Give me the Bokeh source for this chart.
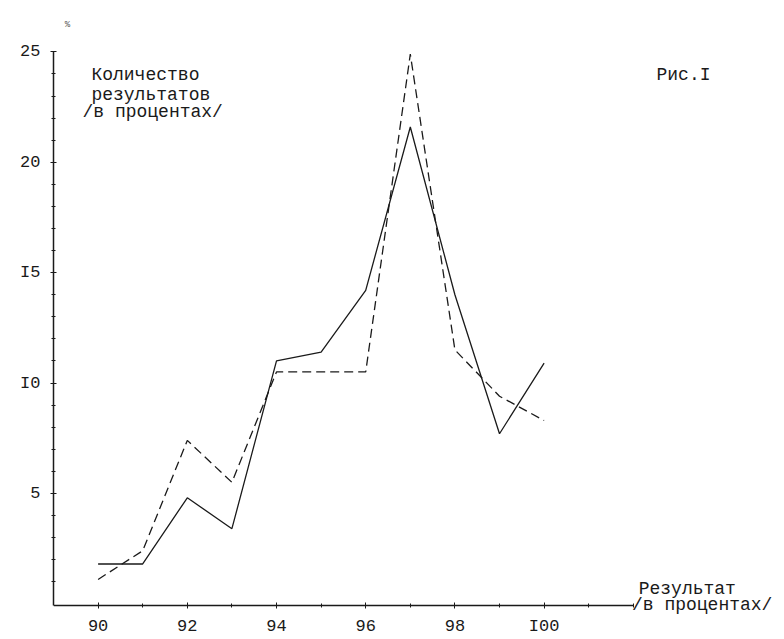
from bokeh.plotting import figure
from bokeh.models import Label, FixedTicker, Range1d
from bokeh.embed import file_html
from bokeh.resources import INLINE

# Data
results = [90, 91, 92, 93, 94, 95, 96, 97, 98, 99, 100]
series_solid = [1.8, 1.8, 4.8, 3.4, 11.0, 11.4, 14.2, 21.6, 14.0, 7.7, 10.9]
series_dashed = [1.1, 2.4, 7.4, 5.5, 10.5, 10.5, 10.5, 24.9, 11.5, 9.4, 8.3]

x_ticks = [90, 92, 94, 96, 98, 100]
x_tick_labels = ["90", "92", "94", "96", "98", "I00"]
y_ticks = [5, 10, 15, 20, 25]
y_tick_labels = ["5", "I0", "I5", "20", "25"]

FONT = "Liberation Mono"
INK = "#1a1a1a"

p = figure(width=780, height=635, output_backend="svg", toolbar_location=None,
           x_range=Range1d(89.0, 105.3), y_range=Range1d(-1.44, 27.33),
           min_border_left=53, min_border_right=0, min_border_top=0,
           min_border_bottom=0)
p.outline_line_color = None
p.xgrid.visible = False
p.ygrid.visible = False
p.background_fill_color = "white"
p.border_fill_color = "white"

for ax in (p.xaxis[0], p.yaxis[0]):
    ax.axis_line_color = INK
    ax.axis_line_width = 1.5
    ax.major_tick_line_color = INK
    ax.minor_tick_line_color = INK
    ax.major_tick_in = 3
    ax.major_tick_out = 3
    ax.minor_tick_in = 2
    ax.minor_tick_out = 2
    ax.major_label_text_font = FONT
    ax.major_label_text_font_size = "17px"
    ax.major_label_text_color = INK

p.xaxis.fixed_location = -0.08
p.xaxis.bounds = (89.0, 102.0)
p.yaxis.bounds = (-0.08, 25.0)
p.xaxis.ticker = FixedTicker(ticks=x_ticks, minor_ticks=results + [101, 102])
p.xaxis.major_label_overrides = dict(zip(x_ticks, x_tick_labels))
p.xaxis.major_label_standoff = 9
p.yaxis.ticker = FixedTicker(ticks=y_ticks, minor_ticks=list(range(1, 26)))
p.yaxis.major_label_overrides = dict(zip(y_ticks, y_tick_labels))
p.yaxis.major_label_standoff = 10

p.line(results, series_solid, line_color=INK, line_width=1.3)
p.line(results, series_dashed, line_color=INK, line_width=1.3, line_dash="9 5")

def add_text(x, y, txt, size="18px", align="left", color=INK):
    p.add_layout(Label(x=x, y=y, text=txt, text_font=FONT, text_font_size=size,
                       text_color=color, text_align=align, text_baseline="middle"))

# y-axis caption inside the frame
add_text(89.85, 23.95, "Количество")
add_text(89.85, 23.05, "результатов")
add_text(89.65, 22.3, "/в процентах/")
# figure title
add_text(102.52, 23.95, "Рис.I")
# x-axis caption at the right end of the axis
add_text(102.12, 0.65, "Результат")
add_text(101.97, -0.05, "/в процентах/")
# small percent mark above the axis
add_text(89.25, 26.2, "%", size="9px", color="#555555")

open("out.html", "w").write(file_html(p, INLINE))
